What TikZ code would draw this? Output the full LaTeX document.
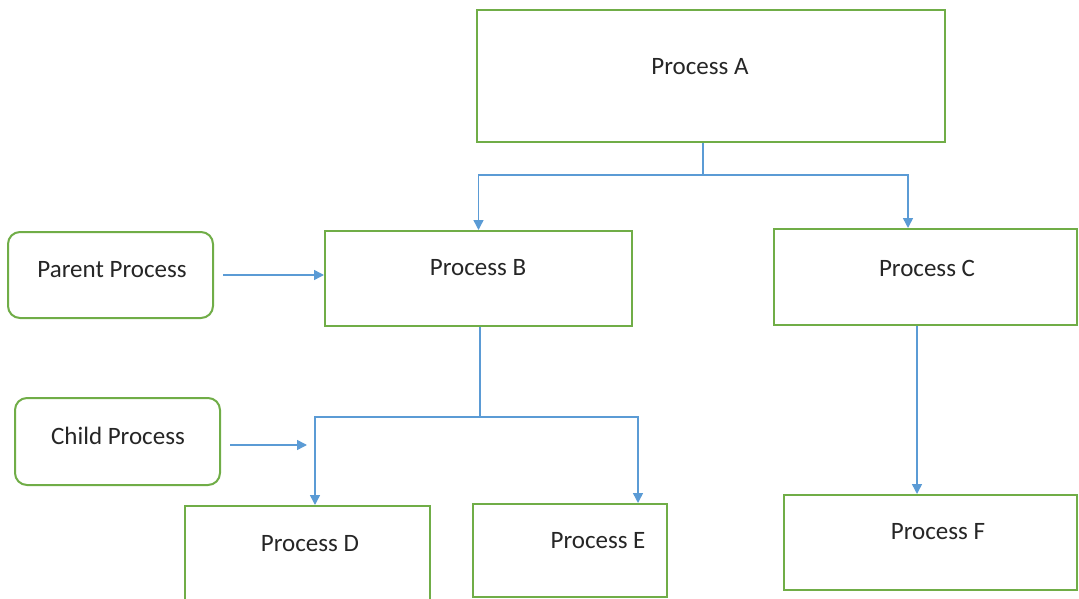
\documentclass[tikz,border=0pt]{standalone}
\usepackage{fontspec}
\setmainfont{Carlito}
\usetikzlibrary{arrows.meta}
\definecolor{boxgreen}{HTML}{70AD47}
\definecolor{linkblue}{HTML}{5B9BD5}
\definecolor{txtgray}{HTML}{262626}
\begin{document}
\begin{tikzpicture}[x=1pt,y=-1pt,
  box/.style={draw=boxgreen, line width=2pt, fill=white, inner sep=0pt},
  roundbox/.style={box, rounded corners=12pt},
  txt/.style={text=txtgray, font=\fontsize{25}{29}\selectfont, inner sep=0pt},
  link/.style={draw=linkblue, line width=1.5pt},
  arr/.style={link, -{Triangle[length=10pt,width=10pt]}}]
\useasboundingbox (0,0) rectangle (1079,599);

% process boxes
\node[box, minimum width=468, minimum height=132] (a) at (711,76) {};
\node[box, minimum width=307, minimum height=95] (b) at (478.5,278.5) {};
\node[box, minimum width=303, minimum height=96] (c) at (925.5,277) {};
\node[roundbox, minimum width=205, minimum height=86] (p) at (110.5,275) {};
\node[roundbox, minimum width=205, minimum height=87] (ch) at (117.5,441.5) {};
\node[box, minimum width=245, minimum height=104] (d) at (307.5,558) {};
\node[box, minimum width=194, minimum height=93] (e) at (570,550.5) {};
\node[box, minimum width=293, minimum height=95] (f) at (930.5,542.5) {};

% labels
\node[txt] (at) at (700,67) {Process A};
\node[txt] (bt) at (478,268) {Process B};
\node[txt] (ct) at (927,268) {Process C};
\node[txt] (pt) at (112,270) {Parent Process};
\node[txt] (cht) at (118,436) {Child Process};
\node[txt] (dt) at (310,544) {Process D};
\node[txt] (et) at (598,541) {Process E};
\node[txt] (ft) at (938,532) {Process F};

% branch points and drop columns
\coordinate (j1) at (703,175);
\coordinate (j2) at (480,417);
\coordinate (cin) at (908,0);
\coordinate (din) at (315,0);
\coordinate (ein) at (638,0);
\coordinate (fin) at (917,0);
\coordinate (chin) at (307,0);

% A splits into B and C
\draw[link] (a.south -| j1) -- (j1);
\draw[arr] (j1) -| (b.north);
\draw[arr] (j1) -| (c.north -| cin);

% parent marker
\draw[arr] ([xshift=9pt]p.east) -- (p.east -| b.west);

% B splits into D and E
\draw[link] (b.south -| j2) -- (j2);
\draw[arr] (j2) -| (d.north -| din);
\draw[arr] (j2) -| (e.north -| ein);

% child marker
\draw[arr] ([xshift=9pt,yshift=-3.5pt]ch.east) -- ([yshift=-3.5pt]ch.east -| chin);

% C to F
\draw[arr] (c.south -| fin) -- (f.north -| fin);
\end{tikzpicture}
\end{document}
